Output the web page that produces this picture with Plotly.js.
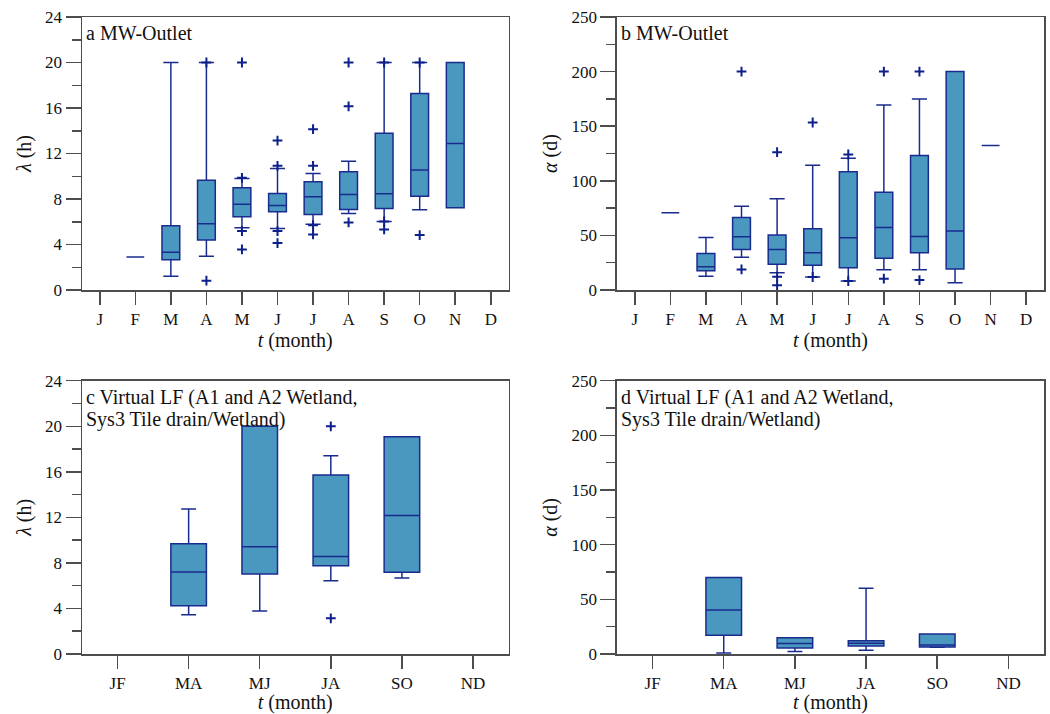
<!DOCTYPE html>
<html>
<head>
<meta charset="utf-8">
<script src="https://cdn.plot.ly/plotly-3.0.1.min.js"></script>
<style>html,body{margin:0;padding:0;background:#fff;}#chart{width:1050px;height:714px;}</style>
</head>
<body>
<div id="chart"></div>
<script>
// ---- tick labels ----
const monthLabels = ['J','F','M','A','M','J','J','A','S','O','N','D'];
const biMonthLabels = ['JF','MA','MJ','JA','SO','ND'];

// ---- panel a: MW-Outlet, lambda (h) ----
const aPos  = [1, 2, 3, 4, 5, 6, 7, 8, 9, 10];
const aQ1   = [2.9, 2.66, 4.39, 6.44, 6.88, 6.64, 7.08, 7.17, 8.25, 7.23];
const aMed  = [2.9, 3.31, 5.82, 7.55, 7.43, 8.19, 8.40, 8.46, 10.54, 12.88];
const aQ3   = [2.9, 5.65, 9.66, 8.98, 8.49, 9.51, 10.39, 13.78, 17.27, 20];
const aLow  = [2.9, 1.2, 2.96, 5.47, 5.41, 5.79, 6.73, 6.03, 7.05, 7.23];
const aHigh = [2.9, 20, 20, 9.80, 10.68, 10.24, 11.32, 20, 20, 20];
const aOutPos = [3, 3, 4, 4, 4, 4, 5, 5, 5, 5, 6, 6, 6, 6, 7, 7, 7, 8, 8, 8, 9, 9];
const aOutVal = [20, 0.82, 20, 9.86, 5.18, 3.57, 13.14, 10.92, 5.18, 4.13, 14.14, 10.92, 5.7, 4.89, 20, 16.15, 5.94, 20, 6.03, 5.33, 20, 4.83];

// ---- panel b: MW-Outlet, alpha (d) ----
const bPos  = [1, 2, 3, 4, 5, 6, 7, 8, 9, 10];
const bQ1   = [70.7, 17.7, 37.2, 23.5, 22.6, 20.4, 29.0, 34.1, 19.2, 132.3];
const bMed  = [70.7, 21.3, 48.8, 37.2, 34.1, 47.9, 57.3, 49.1, 54.0, 132.3];
const bQ3   = [70.7, 33.5, 66.5, 50.3, 56.1, 108.2, 89.6, 123.2, 200, 132.3];
const bLow  = [70.7, 12.5, 29.9, 15.8, 11.9, 8.2, 18.6, 18.6, 6.7, 132.3];
const bHigh = [70.7, 48.2, 76.8, 83.5, 114.3, 120.7, 169.5, 175, 200, 132.3];
const bOutPos = [3, 3, 4, 4, 4, 5, 5, 6, 6, 7, 7, 8, 8];
const bOutVal = [200, 18.9, 126.2, 12.2, 4.3, 153.4, 11.9, 124.1, 8.2, 200, 10.4, 200, 9.1];

// ---- panel c: Virtual LF, lambda (h) ----
const cPos  = [1, 2, 3, 4];
const cQ1   = [4.24, 7.02, 7.76, 7.17];
const cMed  = [7.20, 9.42, 8.57, 12.17];
const cQ3   = [9.69, 20, 15.72, 19.08];
const cLow  = [3.45, 3.78, 6.44, 6.67];
const cHigh = [12.73, 20, 17.41, 19.08];
const cOutPos = [3, 3];
const cOutVal = [20, 3.13];

// ---- panel d: Virtual LF, alpha (d) ----
const dPos  = [1, 2, 3, 4];
const dQ1   = [17.1, 5.5, 7.3, 6.4];
const dMed  = [40.2, 9.5, 9.8, 8.2];
const dQ3   = [70.1, 14.9, 12.2, 18.3];
const dLow  = [0.9, 2.4, 3.4, 6.2];
const dHigh = [70.1, 14.9, 60.1, 18.3];

// ---- styles ----
const FONT = '"Liberation Serif", "Times New Roman", serif';
const FILL = '#4a98bf';
const EDGE = '#1a2b8e';
const PLUS = '#0d1f8a';
const AXC = '#4d4d4d';

function box(pos, q1, med, q3, lo, hi, xa, ya, ww) {
  return {
    type: 'box', x: pos, q1: q1, median: med, q3: q3, lowerfence: lo, upperfence: hi,
    xaxis: xa, yaxis: ya, width: 0.5, whiskerwidth: ww, boxpoints: false,
    fillcolor: FILL, line: {color: EDGE, width: 1.5}, showlegend: false, hoverinfo: 'skip'
  };
}
function pts(pos, val, xa, ya) {
  return {
    type: 'scatter', mode: 'markers', x: pos, y: val, xaxis: xa, yaxis: ya,
    marker: {symbol: 'cross-thin', size: 7, color: PLUS, line: {color: PLUS, width: 2}},
    showlegend: false, hoverinfo: 'skip', cliponaxis: false
  };
}

const data = [
  box(aPos, aQ1, aMed, aQ3, aLow, aHigh, 'x', 'y', 0.85),
  pts(aOutPos, aOutVal, 'x', 'y'),
  box(bPos, bQ1, bMed, bQ3, bLow, bHigh, 'x2', 'y2', 0.85),
  pts(bOutPos, bOutVal, 'x2', 'y2'),
  box(cPos, cQ1, cMed, cQ3, cLow, cHigh, 'x3', 'y3', 0.42),
  pts(cOutPos, cOutVal, 'x3', 'y3'),
  box(dPos, dQ1, dMed, dQ3, dLow, dHigh, 'x4', 'y4', 0.42)
];

function xAxis(labels, domain, anchor) {
  return {
    domain: domain, anchor: anchor, range: [-0.5, labels.length - 0.5],
    tickmode: 'array', tickvals: labels.map((_, i) => i), ticktext: labels,
    showline: true, mirror: true, linecolor: AXC, linewidth: 1.5,
    ticks: 'outside', ticklen: 13, tickwidth: 1.5, tickcolor: AXC,
    showgrid: false, zeroline: false,
    tickfont: {family: FONT, size: 17, color: '#111'},
    title: {text: '<i>t</i> (month)', font: {family: FONT, size: 20, color: '#111'}, standoff: 3}
  };
}
function yAxis(range, dtick, minor, domain, anchor, title) {
  return {
    domain: domain, anchor: anchor, range: range, tickmode: 'linear', tick0: 0, dtick: dtick,
    showline: true, mirror: true, linecolor: AXC, linewidth: 1.5,
    ticks: 'outside', ticklen: 15, tickwidth: 1.5, tickcolor: AXC,
    minor: {dtick: minor, tick0: 0, ticks: 'outside', ticklen: 9, tickwidth: 1.5, tickcolor: AXC, showgrid: false},
    showgrid: false, zeroline: false,
    tickfont: {family: FONT, size: 17, color: '#111'},
    title: {text: title, font: {family: FONT, size: 20, color: '#111'}, standoff: 8}
  };
}

const XL = [0, 0.4434], XR = [0.5561, 1];
const YT = [0.5714, 1], YB = [0, 0.429];

function label(text, xr, yr, yshift) {
  return {text: text, xref: xr + ' domain', yref: yr + ' domain', x: 0, y: 1,
    xanchor: 'left', yanchor: 'top', xshift: 2, yshift: yshift, showarrow: false,
    align: 'left', font: {family: FONT, size: 20, color: '#111'}};
}

const layout = {
  width: 1050, height: 714,
  margin: {l: 82, r: 6, t: 17, b: 60},
  paper_bgcolor: '#fff', plot_bgcolor: '#fff',
  showlegend: false,
  xaxis: xAxis(monthLabels, XL, 'y'),
  yaxis: yAxis([0, 24], 4, 2, YT, 'x', '<i>λ</i> (h)'),
  xaxis2: xAxis(monthLabels, XR, 'y2'),
  yaxis2: yAxis([0, 250], 50, 25, YT, 'x2', '<i>α</i> (d)'),
  xaxis3: xAxis(biMonthLabels, XL, 'y3'),
  yaxis3: yAxis([0, 24], 4, 2, YB, 'x3', '<i>λ</i> (h)'),
  xaxis4: xAxis(biMonthLabels, XR, 'y4'),
  yaxis4: yAxis([0, 250], 50, 25, YB, 'x4', '<i>α</i> (d)'),
  annotations: [
    label('a MW-Outlet', 'x', 'y', -3),
    label('b MW-Outlet', 'x2', 'y2', -3),
    label('c Virtual LF (A1 and A2 Wetland,', 'x3', 'y3', -3),
    label('Sys3 Tile drain/Wetland)', 'x3', 'y3', -25.5),
    label('d Virtual LF (A1 and A2 Wetland,', 'x4', 'y4', -3),
    label('Sys3 Tile drain/Wetland)', 'x4', 'y4', -25.5)
  ]
};

Plotly.newPlot('chart', data, layout, {staticPlot: true, displayModeBar: false});
</script>
</body>
</html>
